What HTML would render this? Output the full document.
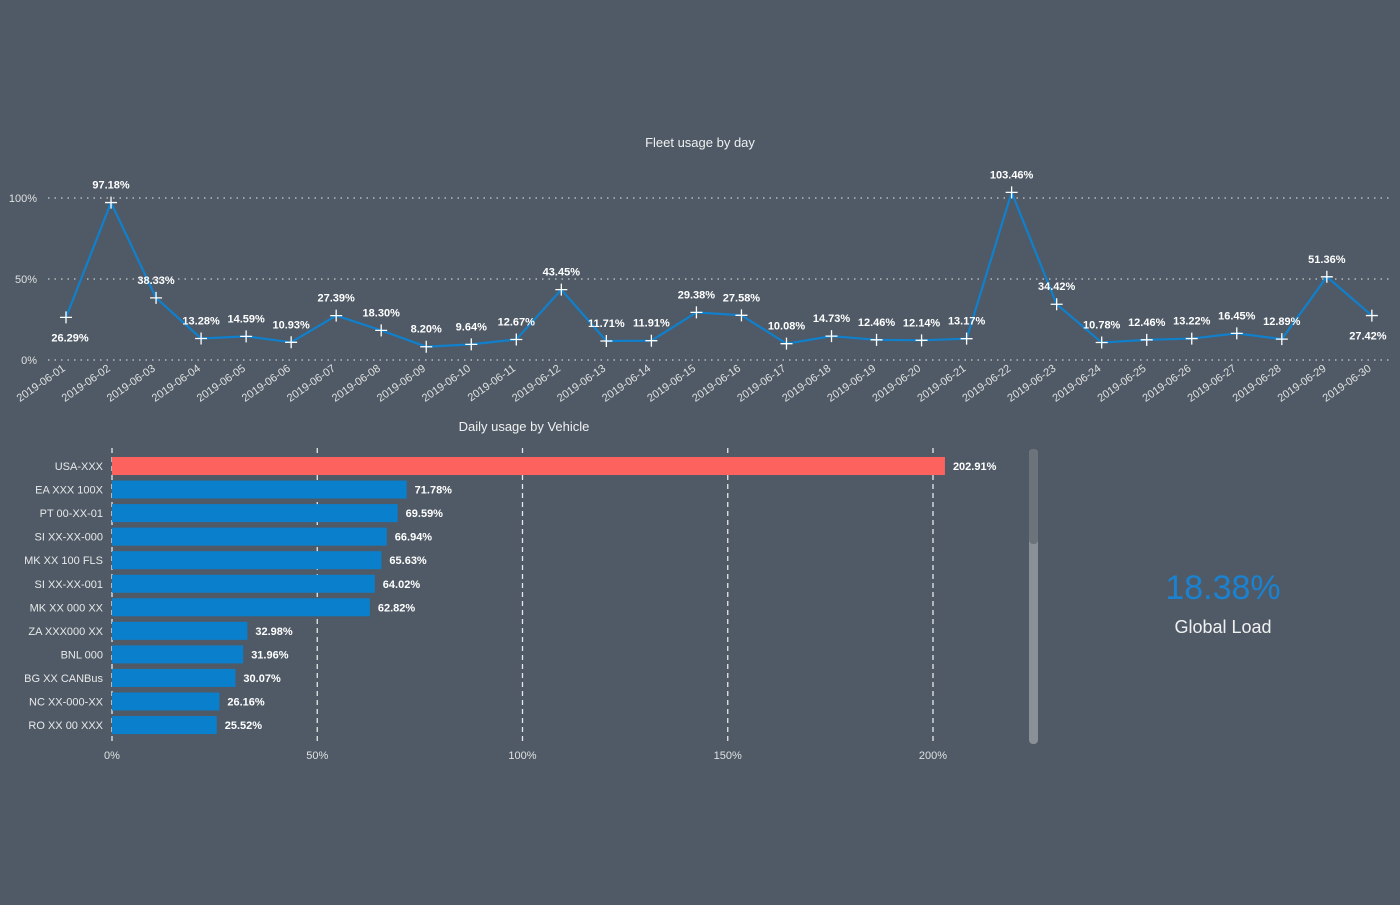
<!DOCTYPE html>
<html><head><meta charset="utf-8"><style>
body{margin:0;background:#4f5a66;width:1400px;height:900px;overflow:hidden;font-family:"Liberation Sans",sans-serif}
</style></head><body>
<svg id="s" width="1400" height="900" xmlns="http://www.w3.org/2000/svg" font-family="Liberation Sans, sans-serif"></svg>
<script>
const s=document.getElementById('s');let h='';
h+='<rect width="1400" height="900" fill="#4f5a66"/>';
h+='<text x="700" y="147" fill="#f0f0f0" font-size="13" text-anchor="middle">Fleet usage by day</text>';
const y0=360,k=1.62;
[[0,'0%'],[50,'50%'],[100,'100%']].forEach(([v,t])=>{const y=y0-v*k;
h+=`<line x1="48" x2="1390" y1="${y}" y2="${y}" stroke="#c8ccd0" stroke-width="1.3" stroke-dasharray="1.5 5"/>`;
h+=`<text x="37" y="${y+4}" fill="#e0e0e0" font-size="11" text-anchor="end">${t}</text>`;});
const v=[26.29,97.18,38.33,13.28,14.59,10.93,27.39,18.30,8.20,9.64,12.67,43.45,11.71,11.91,29.38,27.58,10.08,14.73,12.46,12.14,13.17,103.46,34.42,10.78,12.46,13.22,16.45,12.89,51.36,27.42];
const X=i=>66+i*45.03;let pts=v.map((a,i)=>X(i)+','+(y0-a*k)).join(' ');
h+=`<polyline points="${pts}" fill="none" stroke="#1080cc" stroke-width="2.2"/>`;
v.forEach((a,i)=>{const x=X(i),y=y0-a*k;
h+=`<path d="M${x-6} ${y}H${x+6}M${x} ${y-6}V${y+6}" stroke="#fff" stroke-width="1.3"/>`;
let lx=x,ly=y-14;if(i==0){ly=y+24;lx=x+4}if(i==29){ly=y+24;lx=x-4}
h+=`<text x="${lx}" y="${ly}" fill="#fff" font-size="11" font-weight="bold" text-anchor="middle">${a.toFixed(2)}%</text>`;
const d='2019-06-'+String(i+1).padStart(2,'0');
h+=`<text transform="translate(${x},${y0+10}) rotate(-35)" fill="#e0e0e0" font-size="11" text-anchor="end">${d}</text>`;});
h+='<text x="524" y="431" fill="#f0f0f0" font-size="13" text-anchor="middle">Daily usage by Vehicle</text>';
const bx=112,bk=4.105;
[0,50,100,150,200].forEach(p=>{const x=bx+p*bk;
h+=`<line x1="${x}" x2="${x}" y1="448" y2="742" stroke="#e8e8e8" stroke-width="1.3" stroke-dasharray="5 4"/>`;
h+=`<text x="${x}" y="759" fill="#e0e0e0" font-size="11" text-anchor="middle">${p}%</text>`;});
const bars=[['USA-XXX',202.91],['EA XXX 100X',71.78],['PT 00-XX-01',69.59],['SI XX-XX-000',66.94],['MK XX 100 FLS',65.63],['SI XX-XX-001',64.02],['MK XX 000 XX',62.82],['ZA XXX000 XX',32.98],['BNL 000',31.96],['BG XX CANBus',30.07],['NC XX-000-XX',26.16],['RO XX 00 XXX',25.52]];
bars.forEach(([n,p],i)=>{const c=466+i*23.55,w=p*bk;
h+=`<rect x="${bx}" y="${c-9}" width="${w}" height="18" fill="${i?'#0a7fcc':'#fd625e'}"/>`;
h+=`<text x="103" y="${c+4}" fill="#e8e8e8" font-size="11" text-anchor="end">${n}</text>`;
h+=`<text x="${bx+w+8}" y="${c+4}" fill="#fff" font-size="11" font-weight="bold">${p.toFixed(2)}%</text>`;});
h+='<rect x="1029" y="449" width="9" height="295" rx="4" fill="#8b9097"/><rect x="1029" y="449" width="9" height="95" rx="4" fill="#6c737b"/>';
h+='<text x="1223" y="599" fill="#1a82d0" font-size="34" text-anchor="middle">18.38%</text>';
h+='<text x="1223" y="633" fill="#f0f0f0" font-size="18" text-anchor="middle">Global Load</text>';
s.innerHTML=h;
</script>
</body></html>
